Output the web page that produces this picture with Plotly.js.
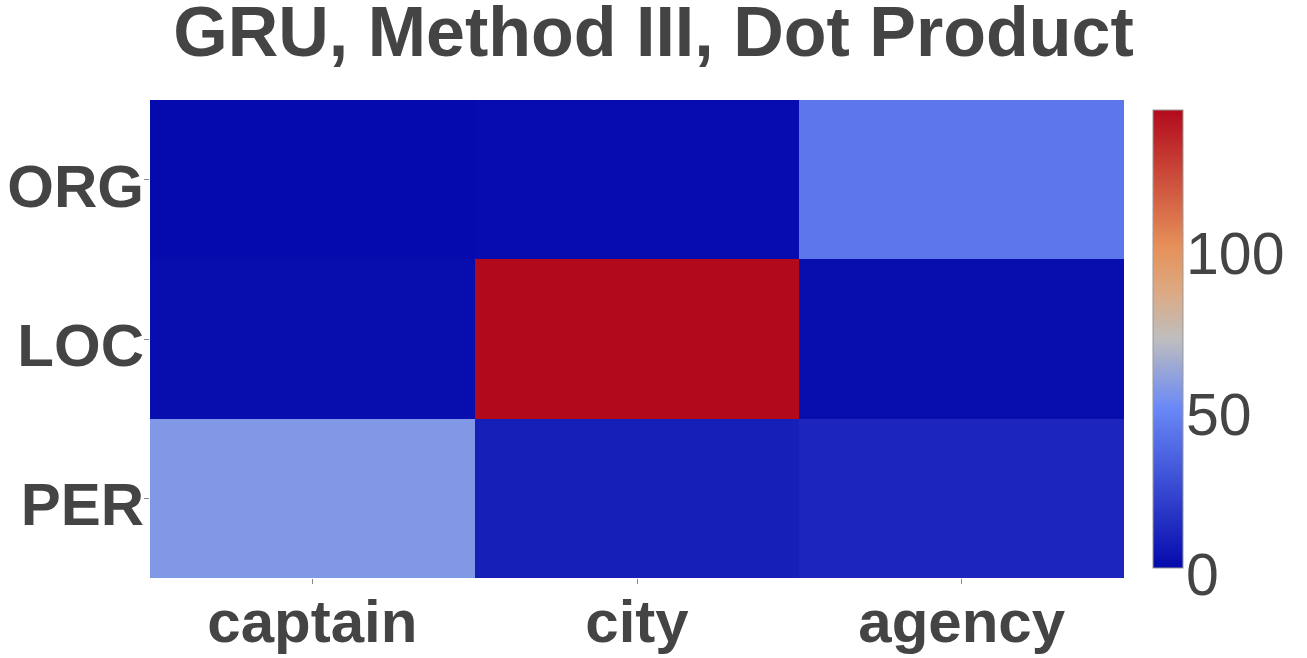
<!DOCTYPE html>
<html>
<head>
<meta charset="utf-8">
<script src="https://cdn.plot.ly/plotly-3.0.1.min.js"></script>
<style>
  body { margin: 0; }
  #plot { width: 1307px; height: 658px; }
</style>
</head>
<body>
<div id="plot"></div>
<script>
var words = ['captain', 'city', 'agency'];
var labels = ['ORG', 'LOC', 'PER'];
var orgScores = [0.0, 0.7, 43];
var locScores = [1.5, 143, 1.3];
var perScores = [56, 8.5, 11.2];
var barTicks = [0, 50, 100];

var scale = [
    [0, 'rgb(5,10,172)'],
    [0.35, 'rgb(106,137,247)'],
    [0.5, 'rgb(190,190,190)'],
    [0.6, 'rgb(220,170,132)'],
    [0.7, 'rgb(230,145,90)'],
    [1, 'rgb(178,10,28)']
];

var allScores = orgScores.concat(locScores, perScores);
var zLo = Math.min.apply(null, allScores);
var zHi = Math.max.apply(null, allScores);

var font = 'Liberation Sans, Arial';
var W = 1307, H = 658, L = 150, R = 10, T = 100, B = 80;
var paperW = W - L - R;
var paperH = H - T - B;
var plotW = 974;
var barPad = 10;

var trace = {
    type: 'heatmap',
    x: words,
    y: labels,
    z: [orgScores, locScores, perScores],
    zmin: zLo,
    zmax: zHi,
    colorscale: scale,
    colorbar: {
        thickness: 30,
        len: 1,
        ypad: barPad,
        x: (1153 - L) / paperW,
        xanchor: 'left',
        xpad: 0,
        outlinecolor: '#999',
        outlinewidth: 1,
        showticklabels: false,
        ticks: ''
    }
};

// invisible helper so the colour bar label axis gets drawn
var barAxis = {
    type: 'scatter',
    mode: 'markers',
    x: [words[0], words[0]],
    y: [zLo, zHi],
    yaxis: 'y2',
    marker: { opacity: 0 },
    hoverinfo: 'skip',
    showlegend: false
};

var layout = {
    width: W,
    height: H,
    margin: { l: L, r: R, t: T, b: B },
    title: {
        text: '<b>GRU, Method III, Dot Product</b>',
        x: 0.5,
        xref: 'container',
        y: 0.952,
        yanchor: 'middle',
        font: { size: 70, color: '#444', family: font }
    },
    xaxis: {
        domain: [0, plotW / paperW],
        showgrid: false,
        ticks: 'outside',
        ticklen: 5,
        tickcolor: '#888',
        ticklabelstandoff: -14,
        tickfont: { size: 60, color: '#444', family: font, weight: 'bold' }
    },
    yaxis: {
        autorange: 'reversed',
        showgrid: false,
        ticks: 'outside',
        ticklen: 5,
        tickcolor: '#888',
        ticklabelstandoff: -12,
        ticklabelshift: -6,
        tickfont: { size: 60, color: '#444', family: font, weight: 'bold' }
    },
    // labels of the colour bar
    yaxis2: {
        domain: [barPad / paperH, 1 - barPad / paperH],
        anchor: 'free',
        side: 'right',
        position: (1183 - L) / paperW,
        range: [zLo, zHi],
        tickvals: barTicks,
        showgrid: false,
        zeroline: false,
        showline: false,
        ticks: '',
        ticklabelstandoff: 2,
        ticklabelshift: 6,
        fixedrange: true,
        tickfont: { size: 59, color: '#444', family: font }
    },
    paper_bgcolor: 'white',
    plot_bgcolor: 'rgba(0,0,0,0)'
};

Plotly.newPlot('plot', [trace, barAxis], layout, { displayModeBar: false });
</script>
</body>
</html>
